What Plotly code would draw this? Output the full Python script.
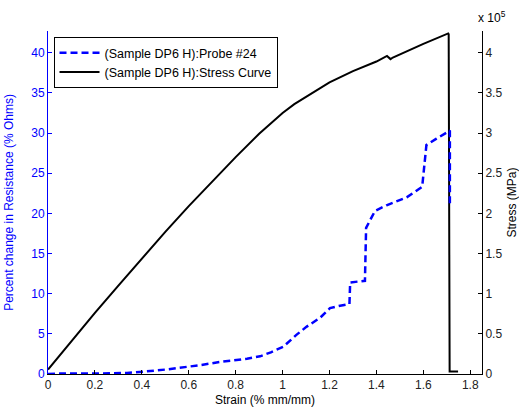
import plotly.graph_objects as go

# Probe #24 (percent change in resistance, % Ohms) vs strain
probe_strain = [0, 0.05, 0.2, 0.3, 0.337, 0.408, 0.5, 0.649, 0.734, 0.848, 0.904, 0.95,
                1.003, 1.06, 1.103, 1.16, 1.202, 1.245, 1.285, 1.288, 1.351, 1.356, 1.386,
                1.394, 1.443, 1.529, 1.595, 1.613, 1.656, 1.713, 1.713]
probe_resist = [0, 0.05, 0.05, 0.1, 0.13, 0.3, 0.55, 1.1, 1.5, 1.9, 2.2, 2.7,
                3.4, 4.9, 5.9, 7.0, 8.2, 8.5, 8.7, 11.4, 11.6, 18.2, 19.9,
                20.3, 21.0, 22.0, 23.3, 28.5, 29.3, 30.3, 21.0]

# Stress curve vs strain
stress_strain = [0, 0.1, 0.2, 0.3, 0.4, 0.5, 0.6, 0.7, 0.8, 0.9, 1.0, 1.05, 1.1, 1.2,
                 1.3, 1.4, 1.445, 1.46, 1.47, 1.5, 1.6, 1.706, 1.708, 1.712, 1.748]
stress_val = [5500, 41000, 76000, 110000, 144000, 177000, 209000, 240000, 270000, 299000,
              325000, 336000, 345000, 363000, 377000, 389000, 396000, 392000, 394000,
              398000, 411000, 424000, 423000, 3000, 3000]

x_ticks = [0, 0.2, 0.4, 0.6, 0.8, 1, 1.2, 1.4, 1.6, 1.8]
x_ticktext = ["0", "0.2", "0.4", "0.6", "0.8", "1", "1.2", "1.4", "1.6", "1.8"]
left_ticks = [0, 5, 10, 15, 20, 25, 30, 35, 40]
right_ticks = [0, 50000, 100000, 150000, 200000, 250000, 300000, 350000, 400000]
right_ticktext = ["0", "0.5", "1", "1.5", "2", "2.5", "3", "3.5", "4"]

FONT = "Liberation Sans, Arial, sans-serif"
BLUE = "#0000ff"

fig = go.Figure()
fig.add_trace(go.Scatter(
    x=stress_strain, y=stress_val, mode="lines", yaxis="y",
    name="(Sample DP6 H):Stress Curve",
    line=dict(color="black", width=2), legendrank=2))
fig.add_trace(go.Scatter(
    x=probe_strain, y=probe_resist, mode="lines", yaxis="y2",
    name="(Sample DP6 H):Probe #24",
    line=dict(color=BLUE, width=2.5, dash="7px,4px"), legendrank=1))

fig.update_layout(
    width=519, height=414,
    margin=dict(l=47.5, r=37, t=31, b=40, autoexpand=False),
    paper_bgcolor="white", plot_bgcolor="white",
    font=dict(family=FONT, size=12, color="black"),
    xaxis=dict(range=[0, 1.85], tickvals=x_ticks, ticktext=x_ticktext,
               showgrid=False, zeroline=False, showline=True, linecolor="black",
               linewidth=1, ticks="inside", ticklen=4, tickcolor="black",
               tickfont=dict(size=12, color="#222"),
               title=dict(text="Strain (% mm/mm)", font=dict(size=12, color="black"), standoff=4)),
    yaxis=dict(range=[0, 427000], side="right", tickvals=right_ticks, ticktext=right_ticktext,
               showgrid=False, zeroline=False, showline=True, linecolor="black",
               linewidth=1, ticks="inside", ticklen=4, tickcolor="black",
               tickfont=dict(size=12, color="#222"),
               title=dict(text="Stress (MPa)", font=dict(size=12, color="black"))),
    yaxis2=dict(range=[0, 42.7], side="left", overlaying="y", tickvals=left_ticks,
                showgrid=False, zeroline=False, showline=True, linecolor=BLUE,
                linewidth=1, ticks="inside", ticklen=4, tickcolor=BLUE,
                tickfont=dict(size=12, color=BLUE),
                title=dict(text="Percent change in Resistance (% Ohms)",
                           font=dict(size=12, color=BLUE))),
    legend=dict(x=0.0127, y=0.9825, xanchor="left", yanchor="top",
                bgcolor="white", bordercolor="black", borderwidth=1,
                font=dict(size=12.5, color="black"), tracegroupgap=0,
                itemwidth=40),
    showlegend=True,
)

fig.add_annotation(text="x 10<sup>5</sup>", xref="paper", yref="paper",
                   x=1.0, y=1.0, xanchor="left", yanchor="bottom", xshift=-6, yshift=4,
                   showarrow=False, font=dict(size=12, color="black"))

fig.write_html("out.html")
